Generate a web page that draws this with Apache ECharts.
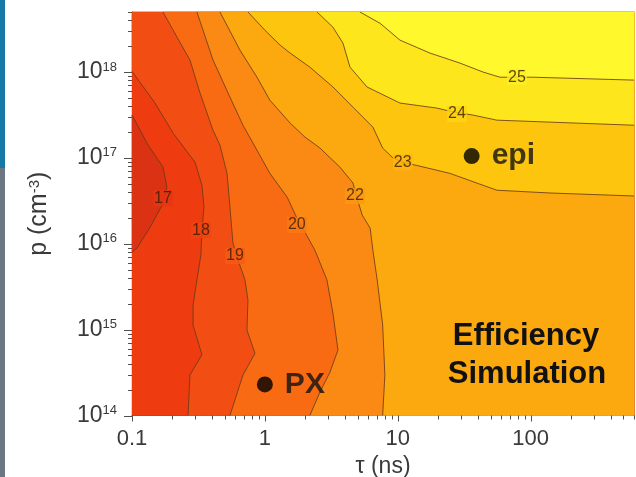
<!DOCTYPE html>
<html><head><meta charset="utf-8">
<script src="https://cdn.jsdelivr.net/npm/echarts@6/dist/echarts.min.js"></script>
<style>html,body{margin:0;padding:0;background:#fff}#c{width:636px;height:477px}</style>
</head><body><div id="c"></div>
<script>
// ---- axis ranges and ticks ----
const tauRange = [0.1, 600];
const pRange = [1e14, 5e18];
const tauMajorTicks = [0.1, 1, 10, 100];
const tauTickLabels = ['0.1', '1', '10', '100'];
const tauMinorTicks = [0.2,0.3,0.4,0.5,0.6,0.7,0.8,0.9, 2,3,4,5,6,7,8,9, 20,30,40,50,60,70,80,90, 200,300,400,500,600];
const pMajorTicks = [1e14, 1e15, 1e16, 1e17, 1e18];
const pTickExponents = [14, 15, 16, 17, 18];
const pMinorTicks = [2e14,3e14,4e14,5e14,6e14,7e14,8e14,9e14, 2e15,3e15,4e15,5e15,6e15,7e15,8e15,9e15,
  2e16,3e16,4e16,5e16,6e16,7e16,8e16,9e16, 2e17,3e17,4e17,5e17,6e17,7e17,8e17,9e17, 2e18,3e18,4e18,5e18];

// ---- contour lines (tau [ns], p [cm^-3]) ----
const contour17 = [[0.1,3.15e17],[0.132,1.41e17],[0.171,7.8e16],[0.183,4.6e16],[0.168,2.8e16],[0.137,1.56e16],[0.109,8.9e15],[0.1,8.0e15]];
const contour18 = [[0.1,1.02e18],[0.149,4.35e17],[0.204,1.94e17],[0.298,8.9e16],[0.336,4.8e16],[0.348,2.67e16],[0.336,1.44e16],[0.33,7.4e15],[0.308,3.8e15],[0.288,1.93e15],[0.288,1.13e15],[0.336,5.1e14],[0.273,2.96e14],[0.264,1e14]];
const contour19 = [[0.171,5e18],[0.218,2.55e18],[0.273,1.38e18],[0.325,5.7e17],[0.407,2.1e17],[0.459,1.41e17],[0.519,6.6e16],[0.546,2.67e16],[0.575,1.02e16],[0.649,5.6e15],[0.708,3.8e15],[0.746,2.2e15],[0.733,9.9e14],[0.842,5.3e14],[0.684,2.96e14],[0.546,1e14]];
const contour20 = [[0.308,5e18],[0.407,1.38e18],[0.546,5.1e17],[0.684,2.4e17],[0.872,1.23e17],[1.09,6.6e16],[1.47,3.5e16],[1.74,2.0e16],[2.0,1.37e16],[2.38,8.4e15],[2.93,3.8e15],[3.25,1.56e15],[3.55,5.8e14],[3.09,3.2e14],[2.6,1.88e14],[2.18,1e14]];
const contour22 = [[0.459,5e18],[0.649,1.8e18],[0.872,8.7e17],[1.09,4.7e17],[1.55,2.54e17],[2.0,1.75e17],[2.6,1.3e17],[3.67,7.8e16],[4.6,5.1e16],[5.0,3.2e16],[5.4,2.16e16],[6.2,1.52e16],[6.5,8.4e15],[7.0,3.8e15],[7.7,1.13e15],[8.0,2.96e14],[7.7,1e14]];
const contour23 = [[0.746,5e18],[1.0,3.07e18],[1.3,2.06e18],[1.55,1.66e18],[2.18,1.14e18],[3.25,6.7e17],[4.6,3.9e17],[6.5,2.28e17],[7.7,1.3e17],[9.2,1.0e17],[10.9,8.9e16],[14.7,8.0e16],[24.7,6.6e16],[43.8,4.8e16],[55.8,4.2e16],[140,3.9e16],[600,3.6e16]];
const contour24 = [[2.47,5e18],[3.25,3.33e18],[3.87,2.17e18],[4.37,1.14e18],[5.87,6.7e17],[10.4,4.35e17],[19.7,3.8e17],[24.7,3.5e17],[36.8,3.15e17],[55.8,2.75e17],[600,2.4e17]];
const contour25 = [[5.19,5e18],[7.35,3.7e18],[10.4,2.35e18],[17.5,1.66e18],[29.4,1.27e18],[43.8,1.0e18],[58.7,8.7e17],[104,8.7e17],[600,8.05e17]];

// ---- contour labels ----
const labelText = ['17','18','19','20','22','23','24','25'];
const labelTau = [0.171, 0.33, 0.596, 1.74, 4.76, 10.9, 27.9, 78.9];
const labelP = [3.4e16, 1.44e16, 7.2e15, 1.65e16, 3.6e16, 8.9e16, 3.24e17, 8.72e17];

// ---- marked devices ----
const markerText = ['PX', 'epi'];
const markerTau = [1, 36];
const markerP = [2.3e14, 1.05e17];

// ---- band colours: <17, 17-18, 18-19, 19-20, 20-22, 22-23, 23-24, 24-25, >25 ----
const bandColors = ['#dc3214','#ee3b10','#f24d12','#f86b12','#fa8a14','#fca80f','#fdc50d','#fde61c','#fff82c'];
// label patch colours (between the two neighbouring bands)
const labelBg = ['#e53612','#f04411','#f55c12','#f97a13','#fb9911','#fcb60e','#fdd514','#feef24'];

const FONT = "'Liberation Sans', Arial, Helvetica, sans-serif";
const xMin = tauRange[0], xMax = tauRange[1], yMin = pRange[0], yMax = pRange[1];

const bands = [
  { poly: [[xMin,yMin],[xMax,yMin],[xMax,yMax],[xMin,yMax]], color: bandColors[1] },
  { poly: contour17.slice(), color: bandColors[0] },
  { poly: contour18.concat([[xMax,yMin],[xMax,yMax],[xMin,yMax]]), color: bandColors[2] },
  { poly: contour19.concat([[xMax,yMin],[xMax,yMax]]), color: bandColors[3] },
  { poly: contour20.concat([[xMax,yMin],[xMax,yMax]]), color: bandColors[4] },
  { poly: contour22.concat([[xMax,yMin],[xMax,yMax]]), color: bandColors[5] },
  { poly: contour23.concat([[xMax,yMax]]), color: bandColors[6] },
  { poly: contour24.concat([[xMax,yMax]]), color: bandColors[7] },
  { poly: contour25.concat([[xMax,yMax]]), color: bandColors[8] }
];
const contours = [contour17, contour18, contour19, contour20, contour22, contour23, contour24, contour25];

function isPow10(v) { const e = Math.log10(v); return Math.abs(e - Math.round(e)) < 1e-6 ? Math.round(e) : null; }

const chart = echarts.init(document.getElementById('c'), null, {renderer: 'canvas'});
const option = {
  animation: false,
  backgroundColor: '#ffffff',
  grid: { left: 132, top: 12, right: 2, bottom: 61.5, containLabel: false, outerBoundsMode: 'none' },
  xAxis: [{
    type: 'log', logBase: 10, min: xMin, max: xMax, interval: 1,
    axisLine: { show: true, lineStyle: { color: '#505050', width: 1 } },
    axisTick: { show: false }, splitLine: { show: false },
    axisLabel: {
      fontSize: 22, color: '#3a3a3a', fontFamily: FONT, margin: 12,
      formatter: v => { const e = isPow10(v); if (e === null) return ''; const i = tauMajorTicks.findIndex(t => isPow10(t) === e); return i < 0 ? '' : tauTickLabels[i]; }
    },
    name: 'τ (ns)', nameLocation: 'middle', nameGap: 40,
    nameTextStyle: { fontSize: 23, color: '#3a3a3a', fontFamily: FONT }
  }, {
    type: 'log', position: 'top', min: xMin, max: xMax,
    axisLine: { show: true, lineStyle: { color: '#a0a0a0', width: 1 } },
    axisTick: { show: false }, axisLabel: { show: false }, splitLine: { show: false }
  }],
  yAxis: [{
    type: 'log', logBase: 10, min: yMin, max: yMax, interval: 1,
    axisLine: { show: true, lineStyle: { color: '#505050', width: 1 } },
    axisTick: { show: false }, splitLine: { show: false },
    axisLabel: {
      margin: 15, fontFamily: FONT,
      formatter: v => { const e = isPow10(v); if (e === null || pTickExponents.indexOf(e) < 0) return ''; return '{b|10}{s|' + e + '}'; },
      rich: {
        b: { fontSize: 23, color: '#3a3a3a', fontFamily: FONT },
        s: { fontSize: 13, color: '#3a3a3a', fontFamily: FONT, verticalAlign: 'top' }
      }
    },
    name: 'p (cm{s|-3})', nameLocation: 'middle', nameGap: 80, nameRotate: 90,
    nameTextStyle: {
      fontSize: 25, color: '#3a3a3a', fontFamily: FONT,
      rich: { s: { fontSize: 15, color: '#3a3a3a', fontFamily: FONT, verticalAlign: 'top' } }
    }
  }, {
    type: 'log', position: 'right', min: yMin, max: yMax,
    axisLine: { show: true, lineStyle: { color: '#a0a0a0', width: 1 } },
    axisTick: { show: false }, axisLabel: { show: false }, splitLine: { show: false }
  }],
  graphic: [
    { type: 'rect', left: 0, top: 0, shape: { width: 5, height: 168 }, style: { fill: '#1778a6' }, z: 100 },
    { type: 'rect', left: 0, top: 168, shape: { width: 5, height: 309 }, style: { fill: '#6b7883' }, z: 100 },
    { type: 'text', x: 526, y: 336, z: 100, style: { text: 'Efficiency', fill: '#111', font: "bold 31px " + FONT, textAlign: 'center', textVerticalAlign: 'middle' } },
    { type: 'text', x: 527, y: 374, z: 100, style: { text: 'Simulation', fill: '#111', font: "bold 31px " + FONT, textAlign: 'center', textVerticalAlign: 'middle' } }
  ],
  series: [
    {
      type: 'custom', name: 'bands', silent: true, z: 1,
      data: bands.map((b, i) => [xMin, yMin, i]),
      encode: { x: 0, y: 1 },
      renderItem: (params, api) => {
        const b = bands[params.dataIndex];
        return { type: 'polygon', shape: { points: b.poly.map(p => api.coord(p)) }, style: { fill: b.color, stroke: b.color, lineWidth: 0.5 } };
      }
    },
    ...contours.map(c => ({
      type: 'line', data: c, showSymbol: false, symbol: 'none', silent: true, z: 2,
      lineStyle: { color: '#6b3a1a', width: 1, opacity: 0.85 }
    })),
    {
      type: 'scatter', silent: true, z: 3, symbolSize: 0,
      data: labelText.map((t, i) => ({ value: [labelTau[i], labelP[i]], name: t,
        label: { backgroundColor: labelBg[i] } })),
      label: { show: true, position: 'inside', formatter: p => p.name, fontSize: 16, color: '#3a1a08', fontFamily: FONT, padding: [0, 1] }
    },
    {
      type: 'scatter', silent: true, z: 4, symbol: 'circle', symbolSize: 16,
      itemStyle: { color: '#000' },
      data: markerText.map((t, i) => ({ value: [markerTau[i], markerP[i]], name: t })),
      label: { show: true, position: 'right', distance: 12, formatter: p => p.name, fontSize: 30, fontWeight: 'bold', color: '#111', fontFamily: FONT }
    },
    {
      type: 'custom', name: 'xticks', silent: true, z: 5, clip: false,
      data: tauMajorTicks.map(v => [v, yMin, 1]).concat(tauMinorTicks.map(v => [v, yMin, 0])),
      encode: { x: 0, y: 1 },
      renderItem: (params, api) => {
        const pt = api.coord([api.value(0), api.value(1)]);
        const len = api.value(2) ? 6 : 4;
        const x = Math.round(pt[0]) + 0.5;
        return { type: 'line', shape: { x1: x, y1: pt[1], x2: x, y2: pt[1] + len }, style: { stroke: '#505050', lineWidth: 1 } };
      }
    },
    {
      type: 'custom', name: 'yticks', silent: true, z: 5, clip: false,
      data: pMajorTicks.map(v => [xMin, v, 1]).concat(pMinorTicks.map(v => [xMin, v, 0])),
      encode: { x: 0, y: 1 },
      renderItem: (params, api) => {
        const pt = api.coord([api.value(0), api.value(1)]);
        const len = api.value(2) ? 8 : 4;
        const y = Math.round(pt[1]) + 0.5;
        return { type: 'line', shape: { x1: pt[0], y1: y, x2: pt[0] - len, y2: y }, style: { stroke: '#505050', lineWidth: 1 } };
      }
    }
  ]
};
chart.setOption(option);
</script>
</body></html>
